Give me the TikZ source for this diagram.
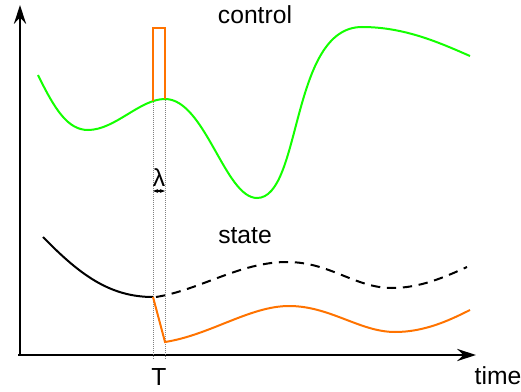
\documentclass[tikz,border=0pt]{standalone}
\usepackage{fontspec}
\setmainfont{Liberation Sans}
\usetikzlibrary{arrows.meta,positioning}

\begin{document}
\begin{tikzpicture}[x=0.75pt,y=-0.75pt,
			axis line/.style={line width=2.2pt, -{Stealth[length=14pt,width=9pt]}},
			ctrl curve/.style={line width=1.5pt, green!90!lime},
			pulse line/.style={line width=1.5pt, orange!90!red},
			state curve/.style={line width=1.5pt, black},
			guide line/.style={densely dotted, line width=0.5pt, gray},
			label text/.style={font=\fontsize{18.5}{22}\selectfont, inner sep=1pt}
			]
			\useasboundingbox (0,0) rectangle (521,392);
			% axes
			\coordinate (origin) at (20,355);
			\coordinate (yend) at (20,5);
			\coordinate (xend) at (476,355);
			\draw[axis line] (origin) -- (yend);
			\draw[axis line] ([xshift=-1.5pt]origin) -- (xend);
			\node[label text] (time) at (498,376) {time};
			\node[label text] (tau) at (159,377) {T};
			
			% guides at the pulse
			\coordinate (g1top) at (153,30);
			\coordinate (g2top) at (165,30);
			\coordinate (g1bot) at (153,360);
			\coordinate (g2bot) at (165,360);
			\draw[guide line] (g1top) -- (g1bot);
			\draw[guide line] (g2top) -- (g2bot);
			
			% control
			\node[label text] (control) at (255,15) {control};
			\draw[ctrl curve] (38,75) .. controls (55,110) and (68,130) .. (88,130)
				.. controls (115,130) and (140,99) .. (165,99)
				.. controls (205,99) and (225,198) .. (257,198)
				.. controls (302,198) and (290,27) .. (362,27)
				.. controls (405,27) and (440,43) .. (470,56);
			\coordinate (p1) at (153,101);
			\coordinate (p2) at (153,28);
			\coordinate (p3) at (165,28);
			\coordinate (p4) at (165,99);
			\draw[pulse line] (p1) -- (p2) -- (p3) -- (p4);
			
			% lambda
			\node[label text] (lambda) at (159,178) {λ};
			\draw[{Stealth[length=4pt]}-{Stealth[length=4pt]}, line width=0.8pt]
				(g1top |- 0,191) coordinate (l1) -- (g2top |- 0,191) coordinate (l2);
			
			% state
			\node[label text] (state) at (245,236) {state};
			\coordinate (s1) at (153,297);
			\coordinate (s2) at (165,342);
			\draw[state curve] (43,237) .. controls (80,275) and (110,297) .. (s1);
			\draw[state curve, dashed, dash pattern=on 7pt off 5pt]
				(156,297) .. controls (200,290) and (240,262) .. (287,262)
				.. controls (330,262) and (355,288) .. (392,288)
				.. controls (420,288) and (445,277) .. (467,267);
			\draw[pulse line] (s1) -- (s2)
				.. controls (210,335) and (250,306) .. (289,306)
				.. controls (330,306) and (360,332) .. (395,332)
				.. controls (425,332) and (450,320) .. (470,310);
		\end{tikzpicture}
\end{document}
